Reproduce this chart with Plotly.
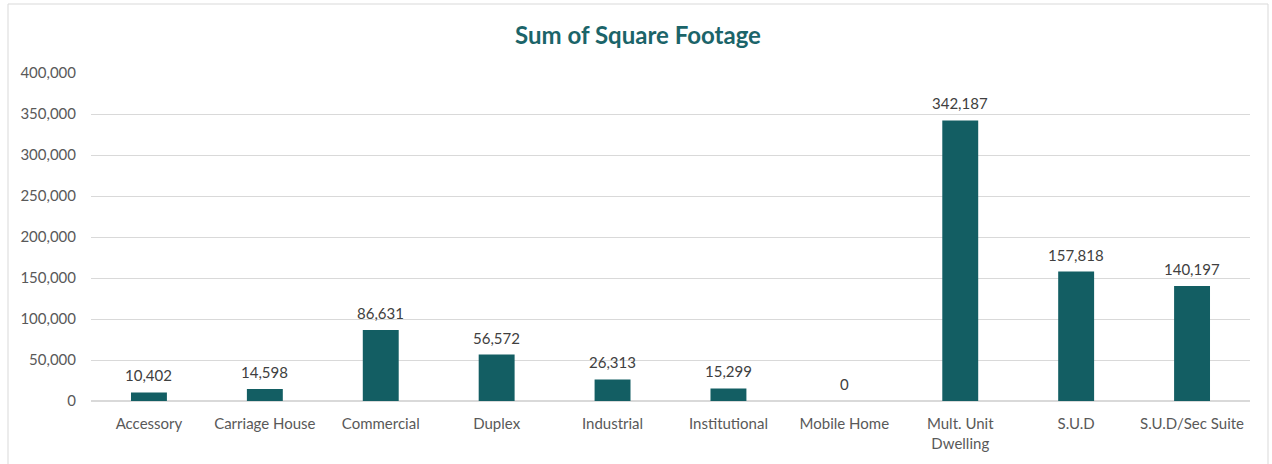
import plotly.graph_objects as go

categories = ["Accessory", "Carriage House", "Commercial", "Duplex", "Industrial",
              "Institutional", "Mobile Home", "Mult. Unit<br>Dwelling", "S.U.D", "S.U.D/Sec Suite"]
values = [10402, 14598, 86631, 56572, 26313, 15299, 0, 342187, 157818, 140197]
tick_vals = [0, 50000, 100000, 150000, 200000, 250000, 300000, 350000, 400000]
tick_text = [f"{v:,}" for v in tick_vals]

BAR = "#135E63"
FONT = "Lato, 'Open Sans', sans-serif"

fig = go.Figure(go.Bar(
    x=categories, y=values,
    marker=dict(color=BAR, line=dict(width=0)),
    hoverinfo="x+y",
))

annotations = [dict(x=c, y=v, xref="x", yref="y", text=f"{v:,}", showarrow=False,
                    yanchor="bottom", yshift=6,
                    font=dict(size=15, color="#404040", family=FONT))
               for c, v in zip(categories, values)]

fig.update_layout(
    width=1272, height=464,
    margin=dict(l=91, r=22, t=73, b=63),
    paper_bgcolor="white", plot_bgcolor="white",
    font=dict(family=FONT, size=15, color="#595959"),
    title=dict(text="<b>Sum of Square Footage</b>", x=638 / 1272, xref="container", xanchor="center",
               y=1 - 36 / 464, yref="container", yanchor="middle",
               font=dict(size=24, color="#1B6469", family=FONT)),
    bargap=0.69,
    showlegend=False,
    annotations=annotations,
    xaxis=dict(showgrid=False, showline=True, linecolor="#D9D9D9", linewidth=1,
               tickfont=dict(size=15, color="#595959"), ticks="", ticklabelstandoff=9,
               fixedrange=True),
    yaxis=dict(range=[0, 400000], tickvals=tick_vals, ticktext=tick_text,
               showgrid=True, gridcolor="#D9D9D9", gridwidth=1, zeroline=True,
               zerolinecolor="#D9D9D9", showline=False,
               tickfont=dict(size=15, color="#595959"), ticklabelstandoff=14),
    shapes=[dict(type="rect", xref="paper", yref="paper",
                 x0=(8 - 91) / 1159, x1=(1268 - 91) / 1159,
                 y0=(401 - 480) / 328, y1=(401 - 4) / 328,
                 line=dict(color="#D9D9D9", width=1), fillcolor="rgba(0,0,0,0)", layer="below")],
)

fig.write_html("out.html", config={"displayModeBar": False},
               post_script="document.body.style.margin='0px';")
